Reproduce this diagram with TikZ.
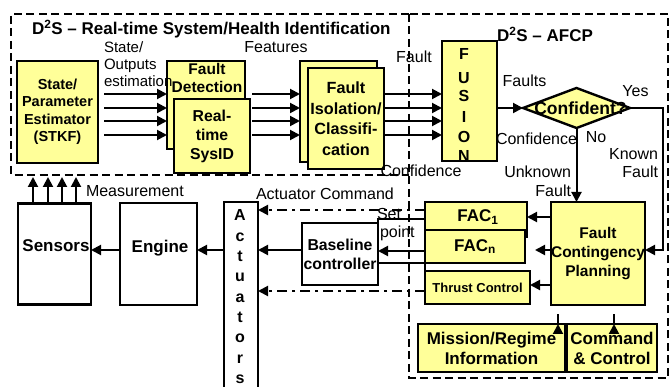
\documentclass[tikz,border=0pt]{standalone}
\usepackage{fontspec}
\setmainfont{Liberation Sans}
\usetikzlibrary{arrows.meta,shapes.geometric,calc}

\definecolor{boxyellow}{RGB}{255,255,153}
\newcommand\setfs[2]{\fontsize{#1}{#2}\selectfont}

\begin{document}
\begin{tikzpicture}[x=1pt,y=-1pt,
  every node/.style={inner sep=0pt, outer sep=0pt},
  ybox/.style={draw, fill=boxyellow, line width=2.4pt, align=center},
  wbox/.style={draw, fill=white, line width=2.4pt, align=center},
  region/.style={draw, line width=2.4pt, dash pattern=on 8pt off 4.5pt},
  conn/.style={line width=2pt},
  arr/.style={line width=2pt, -{Triangle[length=10pt,width=10pt]}},
  cmdline/.style={line width=2pt, dash pattern=on 10pt off 5pt on 3pt off 5pt,
                  -{Triangle[length=10pt,width=10pt]}},
  lbl/.style={font=\setfs{16}{19}},
  ttl/.style={font=\bfseries\setfs{17}{20}},
  btxt/.style={align=center, font=\bfseries\setfs{16}{19}}
]
\useasboundingbox (0,0) rectangle (670,387);
\clip (0,0) rectangle (670,387);

% horizontal signal rows
\coordinate (yA) at (0,94);
\coordinate (yB) at (0,108);
\coordinate (yC) at (0,121);
\coordinate (yD) at (0,135);
\coordinate (yKF) at (0,250);
\coordinate (yAct) at (0,210);
\coordinate (ySet) at (0,219);
\coordinate (yFacn) at (0,251);
\coordinate (yMain) at (0,250);
\coordinate (yThr) at (0,291);
\coordinate (yF1) at (0,217);
\coordinate (yF2) at (0,250);
\coordinate (yF3) at (0,285);
\coordinate (kfc) at (663,108);
\coordinate (meas) at (0,177);

% dashed system regions
\draw[region] (409,14) -- (11,14) -- (11,175) -- (409,175);
\draw[region] (409,14) rectangle (668,378);

% titles
\node[ttl, anchor=base west] (t1) at (32,35) {D\textsuperscript{2}S – Real-time System/Health Identification};
\node[ttl, anchor=base west] (t2) at (497,42) {D\textsuperscript{2}S – AFCP};

% identification chain
\node[ybox, minimum width=81pt, minimum height=102pt, font=\bfseries\setfs{14.5}{17.5}]
  (stkf) at (57.5,112) {State/\\Parameter\\Estimator\\(STKF)};
\node[ybox, minimum width=78pt, minimum height=88pt] (det) at (206,105) {};
\node[btxt, anchor=north, font=\bfseries\setfs{15.5}{18.5}] (dettxt) at (207,63) {Fault\\Detection};
\node[ybox, minimum width=76pt, minimum height=74pt, font=\bfseries\setfs{15.8}{19}]
  (sysid) at (212,136) {Real-\\time\\SysID};
\node[ybox, minimum width=77pt, minimum height=101pt] (isob) at (338.5,111.5) {};
\node[ybox, minimum width=76pt, minimum height=101pt, font=\bfseries\setfs{16.2}{20.5}]
  (iso) at (346,118.5) {Fault\\Isolation/\\Classifi-\\cation};
\node[ybox, minimum width=55pt, minimum height=120pt] (fusion) at (469.5,101) {};
\foreach \ch/\yy [count=\i] in {F/60,U/84,S/102,I/123,O/143,N/162}
  \node[btxt, anchor=base] (fus\i) at (464,\yy) {\ch};

% decision
\node[diamond, draw, fill=boxyellow, line width=2.4pt, minimum width=107pt,
      minimum height=40pt] (dia) at (576.5,108) {};
\node[btxt, font=\bfseries\setfs{17.5}{20}] (diatxt) at (580.5,108.5) {Confident?};

% contingency planning side
\node[ybox, minimum width=94pt, minimum height=103pt, font=\bfseries\setfs{15.5}{19}]
  (fcp) at (598,253.5) {Fault\\Contingency\\Planning};
\node[ybox, minimum width=102pt, minimum height=35pt] (fac1) at (476,219.5) {};
\node[btxt, font=\bfseries\setfs{17}{20}] (fac1txt) at (478,217) {FAC\textsubscript{1}};
\node[ybox, minimum width=100pt, minimum height=33pt, font=\bfseries\setfs{17}{20}]
  (facn) at (475,246.5) {FAC\textsubscript{n}};
\node[ybox, minimum width=105pt, minimum height=33pt, font=\bfseries\setfs{13}{16}]
  (thrust) at (477.5,287.5) {Thrust Control};
\node[ybox, minimum width=147pt, minimum height=48pt, font=\bfseries\setfs{17}{20}]
  (mission) at (491.5,348) {Mission/Regime\\Information};
\node[ybox, minimum width=90pt, minimum height=48pt, font=\bfseries\setfs{17}{20}]
  (cmd) at (612,348) {Command\\\& Control};

% plant side
\node[wbox, minimum width=73pt, minimum height=101pt] (sensors) at (54.5,254) {};
\node[btxt, anchor=base, font=\bfseries\setfs{17}{20}] (sentxt) at (56,252) {Sensors};
\node[wbox, minimum width=77pt, minimum height=102pt] (engine) at (158.5,254) {};
\node[btxt, anchor=base, font=\bfseries\setfs{17}{20}] (engtxt) at (160,253) {Engine};
\node[wbox, minimum width=34pt, minimum height=190pt] (act) at (241,297) {};
\foreach \ch/\yy [count=\i] in {A/221,c/241.3,t/261.6,u/281.9,a/302.2,t/322.5,o/342.8,r/363.1,s/383.4}
  \node[btxt, anchor=base] (act\i) at (240,\yy) {\ch};
\node[wbox, minimum width=76pt, minimum height=62pt, font=\bfseries\setfs{15.8}{19}]
  (base) at (340,254) {Baseline\\controller};

% feature and fault signal bundles
\foreach \r in {yA,yB,yC,yD} {
  \draw[arr] ($(stkf.east |- \r)+(6,0)$) -- (det.west |- \r);
  \draw[arr] ($(sysid.east |- \r)+(2,0)$) -- (isob.west |- \r);
  \draw[arr] (iso.east |- \r) -- (fusion.west |- \r);
}
\draw[arr] (fusion.east |- dia.west) -- (dia.west);
\draw[arr] (dia.east) -- (kfc) |- (fcp.east |- yKF);
\draw[arr] (dia.south) -- (dia.south |- fcp.north);

% planning outputs
\draw[arr] (fcp.west |- yF1) -- (fac1.east |- yF1);
\draw[arr] (fcp.west |- yF2) -- ($(facn.east |- yF2)+(10,0)$);
\draw[arr] (fcp.west |- yF3) -- (thrust.east |- yF3);
\draw[arr] ($(mission.north east)+(-7,0)$) -- ($(mission.north east)+(-7,0)$ |- fcp.south);
\draw[arr] ($(cmd.north)+(2,0)$) -- ($(cmd.north)+(2,0)$ |- fcp.south);

% commands towards the actuators
\draw[cmdline] (fac1.west |- yAct) -- (act.east |- yAct);
\draw[cmdline] (thrust.west |- yThr) -- (act.east |- yThr);
\draw[conn] (fac1.west |- ySet) -- (base.east |- ySet) -- (base.north east);
\draw[arr] (facn.west |- yFacn) -- (base.east |- yFacn);
\draw[conn] (thrust.north west) -- (facn.south west) -- (base.east |- facn.south);
\draw[arr] (base.west |- yMain) -- (act.east |- yMain);
\draw[arr] (act.west |- yMain) -- (engine.east |- yMain);
\draw[arr] (engine.west |- yMain) -- (sensors.east |- yMain);
\foreach \xx in {33,48,62,76}
  \draw[arr] (sensors.north -| \xx,0) -- (meas -| \xx,0);

% signal labels
\node[anchor=base west, font=\setfs{15}{17}] (so1) at (104,53) {State/};
\node[anchor=base west, font=\setfs{15}{17}] (so2) at (104,70) {Outputs};
\node[anchor=base west, font=\setfs{15}{17}] (so3) at (104,87) {estimation};
\node[lbl, anchor=base] (feat) at (276,53) {Features};
\node[lbl, anchor=base] (fltl) at (414,63) {Fault};
\node[lbl, anchor=base] (fltsl) at (524.5,87) {Faults};
\node[lbl, anchor=base] (yesl) at (635.5,97) {Yes};
\node[lbl, anchor=base] (conf1) at (536.5,145) {Confidence};
\node[lbl, anchor=base] (nol) at (596,143) {No};
\node[lbl, anchor=base east] (kn1) at (658,160) {Known};
\node[lbl, anchor=base east] (kn2) at (658,178) {Fault};
\node[lbl, anchor=base east] (un1) at (571,178) {Unknown};
\node[lbl, anchor=base east] (un2) at (571,197) {Fault};
\node[lbl, anchor=base] (conf2) at (421,177) {Confidence};
\node[lbl, anchor=base west] (measl) at (86,197) {Measurement};
\node[lbl, anchor=base west] (actl) at (256,200) {Actuator Command};
\node[lbl, anchor=base west] (setl) at (377,220) {Set};
\node[lbl, anchor=base west] (ptl) at (380,238) {point};
\end{tikzpicture}
\end{document}
